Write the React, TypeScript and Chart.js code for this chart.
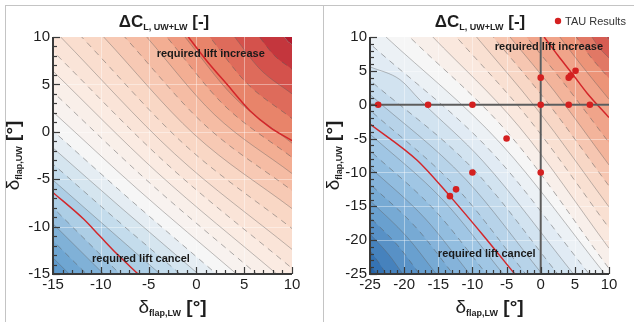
import React, { useEffect, useRef } from 'react';
import { Chart, registerables } from 'chart.js';

Chart.register(...registerables);

type P = [number, number];
type Stop = [number, [number, number, number]];

const FONT = '"Liberation Sans", Arial, Helvetica, sans-serif';

// ---------------- Left panel data ----------------
const leftTicks = [-15, -10, -5, 0, 5, 10];
const leftLevels = [-7.5, -6.5, -5.5, -4.5, -3.5, -2.5, -1.5, -0.5, 0.5, 1.5, 2.5, 3.5, 4.5, 5.5, 6.5, 7.5, 8.5, 9.5, 10.5, 11.5, 12.5, 13.5, 14.5];
const leftLines: P[][] = [
  [[-15, -13.3], [-14.15, -14.15], [-13.3, -15]],
  [[-15, -11.5], [-13.25, -13.25], [-11.5, -15]],
  [[-15, -9.7], [-12.35, -12.35], [-9.7, -15]],
  [[-15, -8.0], [-11.5, -11.5], [-8.0, -15]],
  [[-15, -5.1], [-9.75, -9.75], [-3.8, -15]],
  [[-15, -3.4], [-8.85, -8.85], [-1.7, -15]],
  [[-15, -1.7], [-7.95, -7.95], [0.2, -15]],
  [[-15, 0.1], [-7.05, -7.05], [2.1, -15]],
  [[-15, 2.1], [-6.1, -6.1], [4.2, -15]],
  [[-15, 4.2], [-5.15, -5.15], [6.3, -15]],
  [[-15, 6.4], [-4.2, -4.2], [8.4, -15]],
  [[-15, 8.5], [-3.25, -3.25], [10, -14.4]],
  [[-14.2, 10], [-2.3, -2.3], [10, -12.4]],
  [[-12, 10], [-1.3, -1.3], [10, -10.2]],
  [[-9.7, 10], [-0.25, -0.25], [10, -8.1]],
  [[-7.5, 10], [0.8, 0.8], [10, -6.2]],
  [[-5.2, 10], [1.85, 1.85], [10, -4.4]],
  [[-3.1, 10], [2.85, 2.85], [10, -2.7]],
  [[-1.2, 10], [3.8, 3.8], [10, -1.2]],
  [[1.4, 10], [5.2, 5.2], [10, 1.4]],
  [[4.0, 10], [6.63, 6.63], [10, 4.0]],
  [[6.6, 10], [8.1, 8.1], [10, 6.6]],
  [[9.2, 10], [9.55, 9.55], [10, 9.2]],
];
const leftCancel: P[] = [[-15, -6.4], [-11.8, -9.2], [-10.1, -11.0], [-8.3, -12.9], [-6.1, -15]];
const leftIncrease: P[] = [[-0.84, 10], [1.07, 7.5], [3.17, 5.04], [5.6, 2.23], [7.7, 0.47], [10, -0.94]];

// ---------------- Right panel data ----------------
const rightTicks = [-25, -20, -15, -10, -5, 0, 5, 10];
const rightLevels = [-14.5, -13.5, -12.5, -11.5, -10.5, -9.5, -8.5, -7.5, -6.5, -5.5, -4.5, -3.5, -2.5, -1.5, -0.5, 0.5, 1.5, 2.5, 3.5, 4.5, 5.5, 6.5, 7.5, 8.5, 9.5, 10.5];
const rightLines: P[][] = [
  [[-25, -23.9], [-23.9, -25]],
  [[-25, -21.56], [-23.55, -23.55], [-22.65, -25]],
  [[-25, -19.1], [-22.2, -22.2], [-20.2, -25]],
  [[-25, -16.64], [-20.87, -20.87], [-17.75, -25]],
  [[-25, -14.17], [-19.55, -19.55], [-15.3, -25]],
  [[-25, -11.71], [-18.2, -18.2], [-12.84, -25]],
  [[-25, -9.25], [-16.87, -16.87], [-10.4, -25]],
  [[-25, -6.79], [-15.55, -15.55], [-7.94, -25]],
  [[-25, -4.33], [-14.2, -14.2], [-5.49, -25]],
  [[-25, -0.8], [-12.3, -12.3], [-2.2, -25]],
  [[-25, 1.5], [-11.0, -11.0], [0.2, -25]],
  [[-25, 3.6], [-9.7, -9.7], [2.5, -25]],
  [[-25, 5.6], [-20.6, 3.7], [-17.7, 0.7], [-8.4, -8.4], [4.8, -25]],
  [[-25, 9.0], [-7.1, -7.1], [7.1, -25]],
  [[-22.65, 10], [-5.8, -5.8], [9.4, -25]],
  [[-19.2, 10], [-4.5, -4.5], [10, -24.2]],
  [[-15.8, 10], [-3.2, -3.2], [10, -21.2]],
  [[-12.35, 10], [-1.9, -1.9], [10, -18.2]],
  [[-9.4, 10], [-0.6, -0.6], [10, -15.1]],
  [[-6.96, 10], [0.7, 0.7], [10, -12.0]],
  [[-4.5, 10], [2.0, 2.0], [10, -8.9]],
  [[-2.06, 10], [3.3, 3.3], [10, -5.6]],
  [[2.8, 10], [5.9, 5.9], [10, 0.8]],
  [[5.2, 10], [7.2, 7.2], [10, 3.9]],
  [[7.5, 10], [8.5, 8.5], [10, 6.9]],
  [[9.6, 10], [10, 9.6]],
];
const rightCancel: P[] = [[-25, -2.85], [-18.1, -8.2], [-13.3, -13.5], [-8.5, -19.2], [-3.8, -25]];
const rightIncrease: P[] = [[0.5, 10], [2.5, 7.3], [4.6, 4.6], [6.8, 1.7], [10, -1.9]];

const tauX = [-23.8, -16.5, -10, 0, 4.1, 7.2, 0, 4.1, 4.4, 5.1, -5, -10, 0, -12.4, -13.3];
const tauY = [0, 0, 0, 0, 0, 0, 4, 4, 4.3, 5, -5, -10, -10, -12.5, -13.5];

// ---------------- colour maps (style) ----------------
const LEFT_CMAP: Stop[] = [
  [-9, [78, 143, 199]],
  [-6, [128, 177, 215]],
  [-3, [196, 220, 236]],
  [0, [246, 246, 246]],
  [3, [251, 235, 226]],
  [6, [249, 215, 197]],
  [9, [243, 174, 147]],
  [11, [232, 132, 106]],
  [13, [212, 82, 76]],
  [15, [180, 26, 45]],
];
const RIGHT_CMAP: Stop[] = [
  [-15, [35, 100, 170]],
  [-11, [105, 160, 207]],
  [-7, [160, 198, 228]],
  [-4, [195, 218, 236]],
  [-2, [225, 235, 244]],
  [0, [246, 246, 246]],
  [2, [250, 232, 222]],
  [4, [248, 215, 198]],
  [6, [243, 180, 155]],
  [8, [236, 148, 120]],
  [10, [214, 92, 82]],
  [11.5, [195, 55, 62]],
];

function cmap(A: Stop[], v: number): string {
  const f = (c: number[]) => `rgb(${Math.round(c[0])},${Math.round(c[1])},${Math.round(c[2])})`;
  if (v <= A[0][0]) return f(A[0][1]);
  for (let i = 1; i < A.length; i++) {
    if (v <= A[i][0]) {
      const t = (v - A[i - 1][0]) / (A[i][0] - A[i - 1][0]);
      const a = A[i - 1][1], b = A[i][1];
      return f([a[0] + (b[0] - a[0]) * t, a[1] + (b[1] - a[1]) * t, a[2] + (b[2] - a[2]) * t]);
    }
  }
  return f(A[A.length - 1][1]);
}

function toXY(pts: P[]) {
  return pts.map(([x, y]) => ({ x, y }));
}

// carry a line straight on past the frame so that its fill closes off-screen
function extend(pts: P[], xmin: number, xmax: number) {
  const out = toXY(pts);
  const a = pts[0], b = pts[1];
  const s0 = (b[1] - a[1]) / (b[0] - a[0]);
  const xl = xmin - 2;
  if (a[0] > xl) out.unshift({ x: xl, y: a[1] + s0 * (xl - a[0]) });
  const c = pts[pts.length - 2], d = pts[pts.length - 1];
  const s1 = (d[1] - c[1]) / (d[0] - c[0]);
  const xr = xmax + 2;
  if (d[0] < xr) out.push({ x: xr, y: d[1] + s1 * (xr - d[0]) });
  return out;
}

interface Spec {
  name: string;
  xmin: number; xmax: number; ymin: number; ymax: number;
  ticks: number[];
  levels: number[];
  lines: P[][];
  cancel: P[];
  increase: P[];
  tau: boolean;
  cm: Stop[];
  solidOdd: boolean;
  padding: { left: number; right: number; top: number; bottom: number };
  titleX: number;
  yTitleX: number;
  incLabel: P;
  cancelLabel: P;
}

const leftSpec: Spec = {
  name: 'left', xmin: -15, xmax: 10, ymin: -15, ymax: 10,
  ticks: leftTicks, levels: leftLevels, lines: leftLines,
  cancel: leftCancel, increase: leftIncrease, tau: false, cm: LEFT_CMAP, solidOdd: true,
  padding: { left: 53, right: 28, top: 37, bottom: 48 },
  titleX: 164, yTitleX: 19,
  incLabel: [1.5, 8.2], cancelLabel: [-5.8, -13.4],
};

const rightSpec: Spec = {
  name: 'right', xmin: -25, xmax: 10, ymin: -25, ymax: 10,
  ticks: rightTicks, levels: rightLevels, lines: rightLines,
  cancel: rightCancel, increase: rightIncrease, tau: true, cm: RIGHT_CMAP, solidOdd: false,
  padding: { left: 50, right: 25, top: 37, bottom: 48 },
  titleX: 160, yTitleX: 19,
  incLabel: [1.2, 8.5], cancelLabel: [-7.9, -22.05],
};

type Run = { t: string; font: string; dy?: number };
function drawRuns(ctx: CanvasRenderingContext2D, runs: Run[], cx: number, by: number) {
  let w = 0;
  for (const r of runs) { ctx.font = r.font; w += ctx.measureText(r.t).width; }
  let x = cx - w / 2;
  ctx.textAlign = 'left';
  ctx.textBaseline = 'alphabetic';
  for (const r of runs) {
    ctx.font = r.font;
    ctx.fillText(r.t, x, by + (r.dy || 0));
    x += ctx.measureText(r.t).width;
  }
}

function makePlugin(spec: Spec) {
  return {
    id: 'decor_' + spec.name,
    beforeDatasetsDraw(chart: any) {
      const { ctx, chartArea: a } = chart;
      const xs = chart.scales.x, ys = chart.scales.y;
      ctx.save();
      ctx.beginPath();
      ctx.rect(a.left, a.top, a.right - a.left, a.bottom - a.top);
      ctx.clip();
      ctx.strokeStyle = 'rgba(255,255,255,0.4)';
      ctx.lineWidth = 1;
      for (const t of spec.ticks) {
        if (t === spec.xmin || t === spec.xmax) continue;
        const px = Math.round(xs.getPixelForValue(t)) + 0.5;
        ctx.beginPath(); ctx.moveTo(px, a.top); ctx.lineTo(px, a.bottom); ctx.stroke();
        const py = Math.round(ys.getPixelForValue(t)) + 0.5;
        ctx.beginPath(); ctx.moveTo(a.left, py); ctx.lineTo(a.right, py); ctx.stroke();
      }
      ctx.restore();
    },
    afterDraw(chart: any) {
      const { ctx, chartArea: a } = chart;
      const xs = chart.scales.x, ys = chart.scales.y;
      ctx.save();
      // axes
      ctx.strokeStyle = '#3a3a3a';
      ctx.lineWidth = 2;
      ctx.beginPath();
      ctx.moveTo(a.left, a.top);
      ctx.lineTo(a.left, a.bottom);
      ctx.lineTo(a.right, a.bottom);
      ctx.stroke();
      // ticks (inward)
      ctx.lineWidth = 1.2;
      for (let v = spec.xmin; v <= spec.xmax; v++) {
        const major = spec.ticks.includes(v);
        const len = major ? 7 : 4;
        const px = Math.round(xs.getPixelForValue(v)) + 0.5;
        ctx.beginPath(); ctx.moveTo(px, a.bottom); ctx.lineTo(px, a.bottom - len); ctx.stroke();
      }
      for (let v = spec.ymin; v <= spec.ymax; v++) {
        const major = spec.ticks.includes(v);
        const len = major ? 7 : 4;
        const py = Math.round(ys.getPixelForValue(v)) + 0.5;
        ctx.beginPath(); ctx.moveTo(a.left, py); ctx.lineTo(a.left + len, py); ctx.stroke();
      }
      // tick labels
      ctx.fillStyle = '#1e1e1e';
      ctx.font = `15px ${FONT}`;
      ctx.textAlign = 'center';
      ctx.textBaseline = 'top';
      for (const t of spec.ticks) ctx.fillText(String(t), xs.getPixelForValue(t), a.bottom + 3);
      ctx.textAlign = 'right';
      ctx.textBaseline = 'middle';
      for (const t of spec.ticks) ctx.fillText(String(t), a.left - 3, ys.getPixelForValue(t));
      // title
      drawRuns(ctx, [
        { t: 'ΔC', font: `bold 17px ${FONT}` },
        { t: 'L, UW+LW', font: `bold 9px ${FONT}`, dy: 3 },
        { t: ' [-]', font: `bold 17px ${FONT}` },
      ], spec.titleX, 27);
      // x axis title
      drawRuns(ctx, [
        { t: 'δ', font: `19px ${FONT}` },
        { t: 'flap,LW', font: `bold 9px ${FONT}`, dy: 3 },
        { t: ' [°]', font: `bold 19px ${FONT}` },
      ], (a.left + a.right) / 2, 313);
      // y axis title
      ctx.save();
      ctx.translate(spec.yTitleX, (a.top + a.bottom) / 2);
      ctx.rotate(-Math.PI / 2);
      drawRuns(ctx, [
        { t: 'δ', font: `19px ${FONT}` },
        { t: 'flap,UW', font: `bold 9px ${FONT}`, dy: 3 },
        { t: ' [°]', font: `bold 19px ${FONT}` },
      ], 0, 0);
      ctx.restore();
      // annotations
      ctx.fillStyle = '#1a1a1a';
      ctx.font = `bold 11px ${FONT}`;
      ctx.textAlign = 'center';
      ctx.textBaseline = 'middle';
      ctx.fillText('required lift increase', xs.getPixelForValue(spec.incLabel[0]), ys.getPixelForValue(spec.incLabel[1]));
      ctx.fillText('required lift cancel', xs.getPixelForValue(spec.cancelLabel[0]), ys.getPixelForValue(spec.cancelLabel[1]));
      // legend
      if (spec.tau) {
        ctx.fillStyle = '#d42020';
        ctx.beginPath(); ctx.arc(238, 21, 3.2, 0, Math.PI * 2); ctx.fill();
        ctx.fillStyle = '#333';
        ctx.font = `11px ${FONT}`;
        ctx.textAlign = 'left';
        ctx.textBaseline = 'middle';
        ctx.fillText('TAU Results', 245, 21.5);
      }
      ctx.restore();
    },
  };
}

function makeConfig(spec: Spec): any {
  const datasets: any[] = [];
  spec.lines.forEach((pts, i) => {
    const lvl = spec.levels[i];
    const odd = Math.round(lvl + 0.5) % 2 !== 0;
    const solid = spec.solidOdd ? odd : !odd;
    datasets.push({
      data: extend(pts, spec.xmin, spec.xmax),
      fill: 'start',
      backgroundColor: cmap(spec.cm, lvl - 0.5),
      borderColor: solid ? 'rgba(95,95,95,0.5)' : 'rgba(90,90,90,0.55)',
      borderWidth: solid ? 0.8 : 0.9,
      borderDash: solid ? [] : [6, 5],
      pointRadius: 0,
      cubicInterpolationMode: 'monotone',
      order: 100 + i,
    });
  });
  const last = spec.lines.length - 1;
  datasets.push({
    data: extend(spec.lines[last], spec.xmin, spec.xmax),
    fill: 'end',
    backgroundColor: cmap(spec.cm, spec.levels[last] + 0.5),
    borderWidth: 0,
    pointRadius: 0,
    cubicInterpolationMode: 'monotone',
    order: 500,
  });
  datasets.push({
    data: toXY(spec.cancel), fill: false, borderColor: '#d3262a', borderWidth: 1.5,
    pointRadius: 0, cubicInterpolationMode: 'monotone', order: 20,
  });
  datasets.push({
    data: toXY(spec.increase), fill: false, borderColor: '#d3262a', borderWidth: 1.5,
    pointRadius: 0, cubicInterpolationMode: 'monotone', order: 20,
  });
  if (spec.tau) {
    datasets.push({
      data: [{ x: 0, y: spec.ymin }, { x: 0, y: spec.ymax }], fill: false,
      borderColor: '#5c5c5c', borderWidth: 2, pointRadius: 0, order: 10,
    });
    datasets.push({
      data: [{ x: spec.xmin, y: 0 }, { x: spec.xmax, y: 0 }], fill: false,
      borderColor: '#5c5c5c', borderWidth: 2, pointRadius: 0, order: 10,
    });
    datasets.push({
      type: 'scatter',
      data: tauX.map((x, i) => ({ x, y: tauY[i] })),
      pointRadius: 3.3,
      pointBackgroundColor: '#d42020',
      pointBorderWidth: 0,
      borderColor: '#d42020',
      backgroundColor: '#d42020',
      showLine: false,
      order: 1,
    });
  }
  return {
    type: 'line',
    data: { datasets },
    options: {
      responsive: false,
      animation: false,
      devicePixelRatio: 1,
      events: [],
      layout: { padding: spec.padding },
      scales: {
        x: { type: 'linear', min: spec.xmin, max: spec.xmax, display: false },
        y: { type: 'linear', min: spec.ymin, max: spec.ymax, display: false },
      },
      plugins: {
        legend: { display: false },
        tooltip: { enabled: false },
        filler: { drawTime: 'beforeDatasetsDraw', propagate: false },
      },
    },
    plugins: [makePlugin(spec)],
  };
}

export default function App() {
  const lRef = useRef<HTMLCanvasElement>(null);
  const rRef = useRef<HTMLCanvasElement>(null);
  useEffect(() => {
    const c1 = new Chart(lRef.current as HTMLCanvasElement, makeConfig(leftSpec));
    const c2 = new Chart(rRef.current as HTMLCanvasElement, makeConfig(rightSpec));
    return () => { c1.destroy(); c2.destroy(); };
  }, []);
  const line = '#c4c4c4';
  return (
    <div style={{ position: 'fixed', left: 0, top: 0, width: 634, height: 322, background: '#fff', overflow: 'hidden' }}>
      <canvas ref={lRef} width={320} height={322} style={{ position: 'absolute', left: 0, top: 0, width: 320, height: 322 }} />
      <canvas ref={rRef} width={314} height={322} style={{ position: 'absolute', left: 320, top: 0, width: 314, height: 322 }} />
      <div style={{ position: 'absolute', left: 5, top: 5, width: 629, height: 1, background: line }} />
      <div style={{ position: 'absolute', left: 5, top: 5, width: 1, height: 317, background: line }} />
      <div style={{ position: 'absolute', left: 323, top: 5, width: 1, height: 317, background: line }} />
    </div>
  );
}
